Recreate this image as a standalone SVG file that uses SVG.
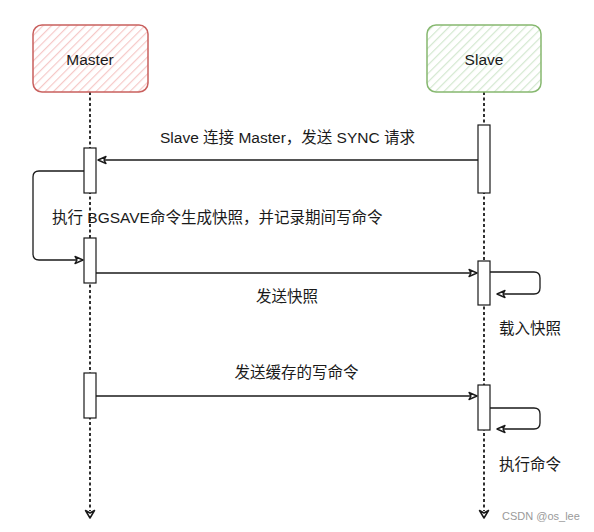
<svg xmlns="http://www.w3.org/2000/svg" width="594" height="532" viewBox="0 0 594 532">
<defs>
<pattern id="hRed" patternUnits="userSpaceOnUse" width="6" height="6" patternTransform="rotate(45)">
<rect width="6" height="6" fill="#ffffff"/>
<line x1="0" y1="0" x2="0" y2="6" stroke="#f6c9c8" stroke-width="2.4"/>
</pattern>
<pattern id="hGreen" patternUnits="userSpaceOnUse" width="6" height="6" patternTransform="rotate(45)">
<rect width="6" height="6" fill="#ffffff"/>
<line x1="0" y1="0" x2="0" y2="6" stroke="#d3e8d0" stroke-width="2.4"/>
</pattern>
<marker id="arr" viewBox="0 0 10 10" refX="9" refY="5" markerWidth="10" markerHeight="10" markerUnits="userSpaceOnUse" orient="auto">
<path d="M1,1.5 L9,5 L1,8.5 L3,5 Z" fill="#ffffff" stroke="#1a1a1a" stroke-width="1.4" stroke-linejoin="round"/>
</marker>
</defs>
<style>
.lbl{font-family:"Liberation Sans","Noto Sans CJK SC",sans-serif;font-size:15.5px;fill:#1a1a1a}
.life{stroke:#1a1a1a;stroke-width:1.8;stroke-dasharray:3 2.5;fill:none}
.act{fill:#ffffff;stroke:#1a1a1a;stroke-width:1.2}
.msg{stroke:#1a1a1a;stroke-width:1.3;fill:none;marker-end:url(#arr)}
.wm{font-family:"Liberation Sans",sans-serif;font-size:11px;fill:#9a9a9a}
</style>
<g id="lifelines">
<line class="life" x1="90" y1="92" x2="90" y2="511"/>
<line class="life" x1="484" y1="92" x2="484" y2="511"/>
<path d="M85.5,510.5 L90,518 L94.5,510.5 L90,513 Z" fill="#ffffff" stroke="#1a1a1a" stroke-width="1.5" stroke-linejoin="round"/>
<path d="M479.5,510.5 L484,518 L488.5,510.5 L484,513 Z" fill="#ffffff" stroke="#1a1a1a" stroke-width="1.5" stroke-linejoin="round"/>
</g>
<g id="master">
<rect x="33" y="25" width="115" height="67" rx="9" fill="url(#hRed)" stroke="#c9605e" stroke-width="1.5"/>
<text class="lbl" x="90" y="64.5" text-anchor="middle">Master</text>
</g>
<g id="slave">
<rect x="427" y="25" width="114" height="67" rx="9" fill="url(#hGreen)" stroke="#86b86f" stroke-width="1.5"/>
<text class="lbl" x="484" y="64.5" text-anchor="middle">Slave</text>
</g>
<g id="activations">
<rect class="act" x="84" y="148" width="12" height="45"/>
<rect class="act" x="84" y="238" width="12" height="45"/>
<rect class="act" x="84" y="373" width="12" height="45"/>
<rect class="act" x="478" y="125" width="12" height="68"/>
<rect class="act" x="478" y="261" width="12" height="44"/>
<rect class="act" x="478" y="385" width="12" height="45"/>
</g>
<g id="connectors">
<line class="msg" x1="478" y1="160" x2="98" y2="160"/>
<path class="msg" d="M84,171 L39,171 Q33,171 33,177 L33,254 Q33,260 39,260 L83,260"/>
<line class="msg" x1="96" y1="273" x2="477" y2="273"/>
<path class="msg" d="M490,272 L534,272 Q540,272 540,278 L540,288 Q540,294 534,294 L497,294"/>
<line class="msg" x1="96" y1="396" x2="477" y2="396"/>
<path class="msg" d="M490,408 L534,408 Q540,408 540,414 L540,423 Q540,429 534,429 L497,429"/>
</g>
<g id="labels">
<text class="lbl" x="287.5" y="142.5" text-anchor="middle">Slave 连接 Master，发送 SYNC 请求</text>
<text class="lbl" x="52" y="222.5">执行 BGSAVE命令生成快照，并记录期间写命令</text>
<text class="lbl" x="287" y="302" text-anchor="middle">发送快照</text>
<text class="lbl" x="499" y="334">载入快照</text>
<text class="lbl" x="296.5" y="378" text-anchor="middle">发送缓存的写命令</text>
<text class="lbl" x="499" y="469.5">执行命令</text>
</g>
<text class="wm" x="502" y="520">CSDN @os_lee</text>
</svg>
